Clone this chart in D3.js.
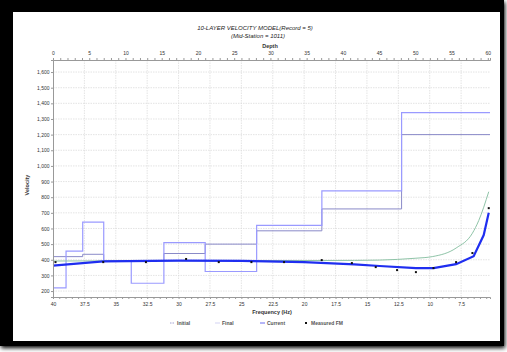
<!DOCTYPE html>
<html><head><meta charset="utf-8">
<script src="https://cdn.jsdelivr.net/npm/d3@7"></script>
<style>body{margin:0;background:#fff}svg{display:block}</style>
</head><body>
<script>
// ---- data ----
const layerTops = [0, 1.8, 4.1, 7.0, 10.8, 15.3, 21.0, 28.1, 37.1, 48.1];
const currentVel = [220, 455, 640, 390, 250, 510, 325, 620, 840, 1340];
const initialVel = [420, 420, 435, 395, 395, 440, 500, 585, 725, 1200];
const finalFreq = [40, 36, 30, 25, 20.4, 16, 14, 11.1, 9.8, 7.9, 6.6, 6.1, 5.3];
const finalVel  = [392, 393, 394, 395, 395, 396, 398, 410, 420, 475, 570, 650, 835];
const curFreq = [40, 36, 30, 25, 20, 16, 14, 11.1, 9.7, 7.9, 6.5, 5.7, 5.3];
const curVel  = [362, 390, 395, 393, 385, 370, 360, 347, 347, 372, 423, 558, 700];
const fmFreq = [39.8, 36.0, 32.6, 29.4, 26.8, 24.2, 21.6, 18.6, 16.2, 14.3, 12.6, 11.1, 9.7, 7.9, 6.6, 5.3];
const fmVel  = [385, 385, 385, 405, 385, 385, 385, 398, 379, 353, 334, 321, 347, 385, 443, 730];
const freqTicks = [40, 37.5, 35, 32.5, 30, 27.5, 25, 22.5, 20, 17.5, 15, 12.5, 10, 7.5];
const depthTicks = [0, 5, 10, 15, 20, 25, 30, 35, 40, 45, 50, 55, 60];
const velTicks = [200, 300, 400, 500, 600, 700, 800, 900, 1000, 1100, 1200, 1300, 1400, 1500, 1600];
const legendItems = ["Initial", "Final", "Current", "Measured FM"];

const W = 507, H = 352;
const svg = d3.select("body").append("svg").attr("width", W).attr("height", H);
const defs = svg.append("defs");
const f = defs.append("filter").attr("id","sh").attr("x","-5%").attr("y","-5%").attr("width","115%").attr("height","115%");
f.append("feGaussianBlur").attr("in","SourceAlpha").attr("stdDeviation",2);
f.append("feOffset").attr("dx",1).attr("dy",2).attr("result","b");
const fm = f.append("feMerge"); fm.append("feMergeNode").attr("in","b"); fm.append("feMergeNode").attr("in","SourceGraphic");

svg.append("rect").attr("x",0).attr("y",0).attr("width",504).attr("height",346).attr("fill","#000").attr("filter","url(#sh)");
svg.append("rect").attr("x",13).attr("y",12).attr("width",487).attr("height",329).attr("fill","#fff");

const L = 53, R = 490, T = 60, B = 297;
const x = d3.scaleLinear().domain([40, 5.2]).range([L, R]);
const xd = d3.scaleLinear().domain([0, 60.3]).range([L, R]);
const y = d3.scaleLinear().domain([162, 1677]).range([B, T]);

const font = "Arial, 'Liberation Sans', sans-serif";
const g = svg.append("g");

// grid
g.selectAll(".hg").data(velTicks).join("line")
  .attr("x1", L).attr("x2", R).attr("y1", d=>y(d)).attr("y2", d=>y(d))
  .attr("stroke", "#d8d8d8").attr("stroke-width", 0.7).attr("stroke-dasharray","1.5,1");
g.selectAll(".vg").data(freqTicks.slice(1)).join("line")
  .attr("x1", d=>x(d)).attr("x2", d=>x(d)).attr("y1", T).attr("y2", B)
  .attr("stroke", "#d8d8d8").attr("stroke-width", 0.7).attr("stroke-dasharray","1.5,1");

// axes
const axStyle = sel => {
  sel.select(".domain").attr("stroke","#999").attr("stroke-width",1);
  sel.selectAll(".tick line").attr("stroke","#999");
  sel.selectAll("text").attr("font-family", font).attr("font-size", 5).attr("fill","#333");
};
const bottomMinor = d3.range(40, 5.2, -0.5);
svg.append("g").attr("transform",`translate(0,${B})`)
  .call(d3.axisBottom(x).tickValues(bottomMinor).tickSize(2).tickFormat(""))
  .call(axStyle);
svg.append("g").attr("transform",`translate(0,${B})`)
  .call(d3.axisBottom(x).tickValues(freqTicks).tickSize(0).tickPadding(5).tickFormat(d=>String(d)))
  .call(axStyle).call(s=>s.select(".domain").remove());
svg.append("g").attr("transform",`translate(0,${T})`)
  .call(d3.axisTop(xd).tickValues(d3.range(0, 61, 1)).tickSize(2).tickFormat(""))
  .call(axStyle);
svg.append("g").attr("transform",`translate(0,${T})`)
  .call(d3.axisTop(xd).tickValues(depthTicks).tickSize(0).tickPadding(5).tickFormat(d=>String(d)))
  .call(axStyle).call(s=>s.select(".domain").remove());
svg.append("g").attr("transform",`translate(${L},0)`)
  .call(d3.axisLeft(y).tickValues(velTicks).tickSize(2).tickPadding(1.5).tickFormat(d3.format(",")))
  .call(axStyle);

// step profiles
const stepPts = (vals) => layerTops.map((d,i)=>[d, vals[i]]).concat([[60.3, vals[vals.length-1]]]);
const stepLine = d3.line().x(d=>xd(d[0])).y(d=>y(d[1])).curve(d3.curveStepAfter);
g.append("path").attr("d", stepLine(stepPts(initialVel)))
  .attr("fill","none").attr("stroke","#8a8ac8").attr("stroke-width",1);
g.append("path").attr("d", stepLine(stepPts(currentVel)))
  .attr("fill","none").attr("stroke","#9a9aff").attr("stroke-width",1.2);

// dispersion curves
const fline = d3.line().x(d=>x(d[0])).y(d=>y(d[1]));
g.append("path").attr("d", fline.curve(d3.curveMonotoneX)(finalFreq.map((d,i)=>[d, finalVel[i]])))
  .attr("fill","none").attr("stroke","#8fc4a8").attr("stroke-width",1);
g.append("path").attr("d", d3.line().x(d=>x(d[0])).y(d=>y(d[1]))(curFreq.map((d,i)=>[d, curVel[i]])))
  .attr("fill","none").attr("stroke","#1f2ef0").attr("stroke-width",2.2);

// measured points
g.selectAll(".fm").data(fmFreq.map((d,i)=>[d, fmVel[i]])).join("rect")
  .attr("x", d=>x(d[0])-1).attr("y", d=>y(d[1])-1).attr("width",2).attr("height",2)
  .attr("fill","#111");

// titles
svg.append("text").attr("x",255).attr("y",30).attr("text-anchor","middle")
  .attr("font-family",font).attr("font-size",6).attr("font-style","italic").attr("fill","#222")
  .text("10-LAYER VELOCITY MODEL(Record = 5)");
svg.append("text").attr("x",258).attr("y",38).attr("text-anchor","middle")
  .attr("font-family",font).attr("font-size",6).attr("font-style","italic").attr("fill","#222")
  .text("(Mid-Station = 1011)");
svg.append("text").attr("x",270).attr("y",47.5).attr("text-anchor","middle")
  .attr("font-family",font).attr("font-size",5.5).attr("font-weight","bold").attr("fill","#333").text("Depth");
svg.append("text").attr("x",272).attr("y",314).attr("text-anchor","middle")
  .attr("font-family",font).attr("font-size",5.5).attr("font-weight","bold").attr("fill","#333").text("Frequency (Hz)");
svg.append("text").attr("transform","translate(29,185) rotate(-90)").attr("text-anchor","middle")
  .attr("font-family",font).attr("font-size",5.5).attr("font-weight","bold").attr("fill","#333").text("Velocity");

// legend
const legX = [170, 215, 260, 304];
const lg = svg.append("g");
legendItems.forEach((name,i)=>{
  const gx = legX[i], gy = 323;
  if (i === 0) lg.append("line").attr("x1",gx).attr("x2",gx+5).attr("y1",gy).attr("y2",gy)
      .attr("stroke","#8a8ac8").attr("stroke-width",0.8).attr("stroke-dasharray","1.5,1");
  if (i === 1) lg.append("line").attr("x1",gx).attr("x2",gx+5).attr("y1",gy).attr("y2",gy)
      .attr("stroke","#c8c8f0").attr("stroke-width",0.8);
  if (i === 2) lg.append("line").attr("x1",gx).attr("x2",gx+5).attr("y1",gy).attr("y2",gy)
      .attr("stroke","#6a6af0").attr("stroke-width",1);
  if (i === 3) lg.append("rect").attr("x",gx+1).attr("y",gy-1).attr("width",2).attr("height",2).attr("fill","#111");
  lg.append("text").attr("x", gx + (i===3?7:7)).attr("y", gy+1.8)
    .attr("font-family",font).attr("font-size",5).attr("font-weight","bold").attr("fill","#555").text(name);
});
</script>
</body></html>
